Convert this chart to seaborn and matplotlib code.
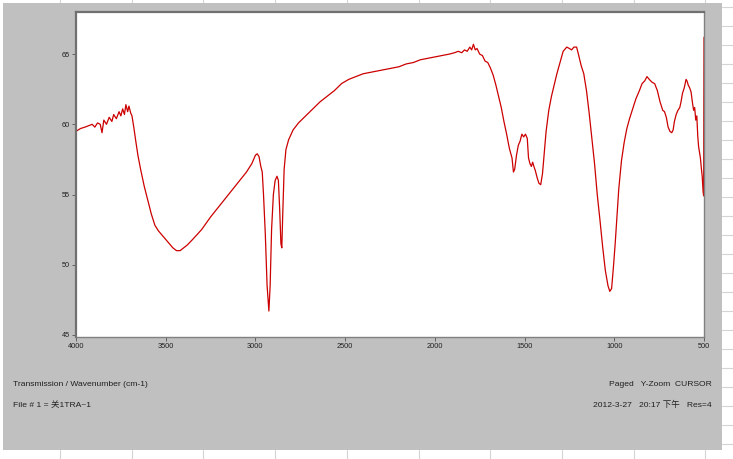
import matplotlib
matplotlib.use("Agg")
import matplotlib.pyplot as plt
import seaborn as sns
import pandas as pd
from matplotlib.patches import Rectangle
from matplotlib.lines import Line2D

# IR spectrum (wavenumber cm-1, %T)
wavenumber = [4000, 3975, 3950, 3930, 3910, 3895, 3880, 3865, 3855, 3845, 3830, 3815, 3800, 3790,
              3775, 3760, 3750, 3740, 3730, 3722, 3712, 3705, 3695, 3688, 3678, 3668, 3655, 3640,
              3620, 3600, 3580, 3560, 3540, 3520, 3500, 3480, 3460, 3440, 3420, 3400, 3380, 3350,
              3300, 3250, 3200, 3150, 3100, 3050, 3020, 3000, 2990, 2980, 2970, 2962, 2955, 2945,
              2935, 2925, 2918, 2910, 2900, 2890, 2880, 2872, 2865, 2858, 2853, 2848, 2840, 2830,
              2815, 2790, 2760, 2720, 2680, 2640, 2600, 2560, 2520, 2480, 2440, 2400, 2360, 2320,
              2280, 2240, 2200, 2160, 2120, 2080, 2040, 2000, 1960, 1920, 1890, 1870, 1850, 1835,
              1820, 1805, 1795, 1785, 1775, 1765, 1750, 1735, 1720, 1705, 1690, 1675, 1660, 1645,
              1630, 1615, 1600, 1585, 1570, 1562, 1555, 1545, 1535, 1525, 1515, 1505, 1495, 1485,
              1478, 1470, 1462, 1455, 1448, 1440, 1430, 1420, 1410, 1400, 1390, 1380, 1365, 1350,
              1335, 1320, 1300, 1285, 1265, 1250, 1238, 1225, 1210, 1200, 1185, 1170, 1155, 1140,
              1125, 1110, 1095, 1080, 1065, 1050, 1035, 1025, 1015, 1005, 995, 985, 975, 960,
              945, 930, 915, 900, 880, 860, 845, 830, 818, 805, 790, 775, 760, 745,
              730, 720, 710, 700, 690, 680, 672, 665, 655, 645, 635, 628, 620, 610,
              600, 595, 588, 580, 572, 565, 558, 552, 546, 540, 535, 530, 525, 520,
              515, 510, 505, 502, 500]
transmission = [59.5, 59.7, 59.8, 59.9, 60.0, 59.8, 60.1, 60.0, 59.4, 60.3, 60.0, 60.5, 60.2, 60.7,
                60.4, 60.9, 60.6, 61.1, 60.7, 61.4, 60.9, 61.3, 60.8, 60.6, 59.8, 58.9, 57.8, 56.8,
                55.6, 54.6, 53.6, 52.8, 52.4, 52.1, 51.8, 51.5, 51.2, 51.0, 51.0, 51.2, 51.4, 51.8,
                52.5, 53.4, 54.2, 55.0, 55.8, 56.6, 57.2, 57.8, 57.9, 57.7, 57.0, 56.6, 55.0, 52.2,
                48.5, 46.7, 48.5, 52.5, 55.0, 56.0, 56.3, 56.0, 54.0, 51.5, 51.2, 53.5, 56.8, 58.2,
                58.9, 59.6, 60.1, 60.6, 61.1, 61.6, 62.0, 62.4, 62.9, 63.2, 63.4, 63.6, 63.7, 63.8,
                63.9, 64.0, 64.1, 64.3, 64.4, 64.6, 64.7, 64.8, 64.9, 65.0, 65.1, 65.2, 65.1, 65.3,
                65.2, 65.5, 65.3, 65.7, 65.3, 65.4, 65.0, 64.9, 64.5, 64.4, 64.0, 63.5, 62.8, 62.0,
                61.2, 60.2, 59.3, 58.3, 57.6, 56.6, 56.8, 57.8, 58.5, 58.8, 59.3, 59.1, 59.3, 59.0,
                57.6, 57.2, 57.0, 57.3, 57.0, 56.7, 56.2, 55.8, 55.7, 56.5, 58.0, 59.5, 61.0, 62.0,
                62.8, 63.6, 64.5, 65.2, 65.5, 65.4, 65.3, 65.5, 65.5, 65.0, 64.2, 63.6, 62.4, 60.8,
                59.0, 57.2, 55.0, 53.2, 51.3, 49.6, 48.5, 48.1, 48.3, 49.8, 51.5, 53.5, 55.4, 57.4,
                58.7, 59.7, 60.4, 61.0, 61.8, 62.4, 62.9, 63.1, 63.4, 63.2, 63.0, 62.9, 62.4, 61.6,
                61.0, 60.9, 60.5, 59.8, 59.5, 59.4, 59.6, 60.2, 60.7, 61.0, 61.2, 61.6, 62.2, 62.6,
                63.2, 63.1, 62.8, 62.6, 62.3, 61.6, 61.0, 61.2, 60.3, 60.6, 59.2, 58.4, 58.0, 57.6,
                56.9, 56.3, 55.2, 54.9, 66.2]

x_ticks = [4000, 3500, 3000, 2500, 2000, 1500, 1000, 500]
y_ticks = [45, 50, 55, 60, 65]

df = pd.DataFrame({"wn": wavenumber, "T": transmission})

sns.set_style("white")
plt.rcParams["font.family"] = ["Liberation Sans", "Noto Sans CJK SC", "DejaVu Sans"]

W, H = 733, 459
fig = plt.figure(figsize=(W / 100, H / 100), dpi=100)
fig.patch.set_facecolor("white")

# faint spreadsheet cell lines peeking out around the screenshot
grid_kw = dict(color="#d4d4d4", linewidth=0.8, zorder=-10)
for k in range(10):
    gx = (60 + 71.7 * k) / W
    fig.add_artist(Line2D([gx, gx], [1 - 3 / H, 1], **grid_kw))
    fig.add_artist(Line2D([gx, gx], [0, 1 - 450 / H], **grid_kw))
for k in range(24):
    gy = 1 - (7 + 19.0 * k) / H
    fig.add_artist(Line2D([722 / W, 1], [gy, gy], **grid_kw))

# gray window background (behind the axes)
fig.patches.append(Rectangle((3 / W, 1 - 450 / H), 719 / W, 447 / H,
                             transform=fig.transFigure, facecolor="#c0c0c0",
                             edgecolor="none", zorder=-5))

ax = fig.add_axes([76 / W, 1 - 337 / H, 628 / W, 325 / H])
ax.set_zorder(2)
ax.set_facecolor("white")
sns.lineplot(data=df, x="wn", y="T", sort=False, color="#cc0000", linewidth=0.9, ax=ax)

ax.set_xlim(4000, 500)
ax.set_ylim(44.85, 68.0)
ax.set_xticks(x_ticks)
ax.set_xticklabels([str(v) for v in x_ticks])
ax.set_yticks(y_ticks)
ax.set_yticklabels([str(v) for v in y_ticks])
ax.set_xlabel("")
ax.set_ylabel("")
ax.tick_params(axis="both", which="both", direction="out", length=3, width=0.6,
               color="#505050", labelsize=5.3, labelcolor="#202020", pad=1.5,
               bottom=True, left=True)
for side in ["top", "left"]:
    ax.spines[side].set_color("#707070")
    ax.spines[side].set_linewidth(1.6)
for side in ["right", "bottom"]:
    ax.spines[side].set_color("#808080")
    ax.spines[side].set_linewidth(1.0)

txt = dict(fontsize=6.1, color="#202020", transform=fig.transFigure, va="center")
fig.text(13 / W, 1 - 385 / H, "Transmission / Wavenumber (cm-1)", ha="left", **txt)
fig.text(13 / W, 1 - 405 / H, "File # 1 = 关1TRA~1", ha="left", **txt)
fig.text(712 / W, 1 - 385 / H, "Paged   Y-Zoom  CURSOR", ha="right", **txt)
fig.text(712 / W, 1 - 405 / H, "2012-3-27   20:17 下午   Res=4", ha="right", **txt)

fig.savefig("out.png", dpi=100)
